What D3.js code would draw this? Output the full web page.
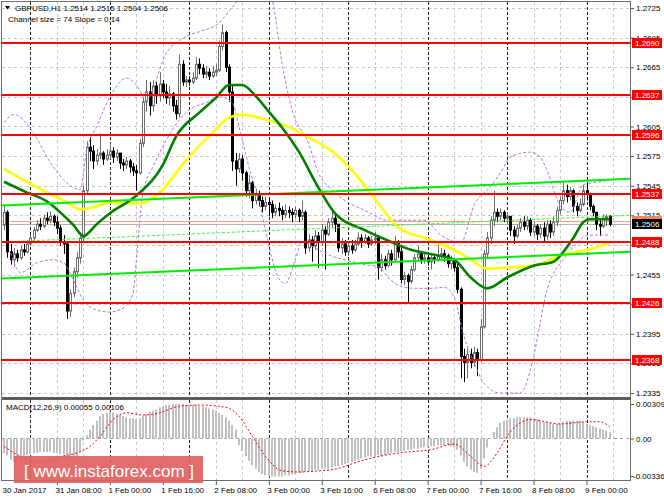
<!DOCTYPE html>
<html>
<head>
<meta charset="utf-8">
<script src="https://cdnjs.cloudflare.com/ajax/libs/d3/7.8.5/d3.min.js"></script>
<style>
  body { margin: 0; background: #fff; }
  svg text { font-family: "Liberation Sans", Arial, sans-serif; font-size: 8px; fill: #000; }
</style>
</head>
<body>
<svg id="chart" width="664" height="498"></svg>
<script>
// ---- data (bar 0 = 30 Jan 16:00) ----
const closes = [
  1.2518,1.2478,1.2470,1.2476,1.2472,1.2480,1.2478,1.2486,
  1.2492,1.2500,1.2506,1.2504,1.2512,1.2510,1.2514,1.2508,
  1.2502,1.2488,1.2486,1.2418,1.2436,1.2458,1.2472,1.2492,
  1.2540,1.2584,1.2580,1.2570,1.2576,1.2578,1.2572,1.2576,
  1.2580,1.2574,1.2578,1.2568,1.2566,1.2570,1.2564,1.2560,
  1.2558,1.2588,1.2630,1.2640,1.2626,1.2646,1.2636,1.2648,
  1.2640,1.2634,1.2638,1.2626,1.2618,1.2668,1.2650,1.2652,
  1.2650,1.2654,1.2668,1.2664,1.2658,1.2660,1.2656,1.2660,
  1.2662,1.2686,1.2700,1.2665,1.2640,1.2570,1.2562,1.2572,
  1.2558,1.2540,1.2548,1.2530,1.2536,1.2530,1.2524,1.2528,
  1.2526,1.2518,1.2522,1.2520,1.2516,1.2520,1.2518,1.2516,
  1.2520,1.2514,1.2518,1.2482,1.2490,1.2484,1.2494,1.2488,
  1.2500,1.2496,1.2508,1.2512,1.2506,1.2482,1.2486,1.2478,
  1.2484,1.2480,1.2486,1.2492,1.2488,1.2492,1.2486,1.2490,
  1.2492,1.2462,1.2470,1.2464,1.2476,1.2470,1.2488,1.2478,
  1.2450,1.2454,1.2448,1.2460,1.2472,1.2476,1.2470,1.2472,
  1.2468,1.2472,1.2470,1.2474,1.2476,1.2474,1.2466,1.2470,
  1.2462,1.2440,1.2372,1.2366,1.2374,1.2366,1.2376,1.2368,
  1.2402,1.2476,1.2492,1.2510,1.2518,1.2514,1.2518,1.2512,
  1.2514,1.2500,1.2494,1.2502,1.2508,1.2504,1.2510,1.2498,
  1.2504,1.2496,1.2502,1.2494,1.2506,1.2498,1.2508,1.2520,
  1.2530,1.2540,1.2534,1.2540,1.2524,1.2520,1.2526,1.2540,
  1.2536,1.2524,1.2518,1.2506,1.2504,1.2512,1.2514,1.2506
];
const highs = [
  1.2525,1.2520,1.2486,1.2482,1.2480,1.2484,1.2486,1.2490,
  1.2496,1.2503,1.2510,1.2512,1.2516,1.2518,1.2519,1.2516,
  1.2514,1.2505,1.2495,1.2488,1.2440,1.2462,1.2478,1.2498,
  1.2545,1.2590,1.2594,1.2586,1.2582,1.2598,1.2580,1.2582,
  1.2588,1.2584,1.2582,1.2576,1.2572,1.2574,1.2572,1.2568,
  1.2566,1.2592,1.2634,1.2652,1.2650,1.2652,1.2650,1.2660,
  1.2652,1.2648,1.2646,1.2640,1.2632,1.2678,1.2672,1.2656,
  1.2656,1.2660,1.2675,1.2674,1.2668,1.2666,1.2664,1.2666,
  1.2668,1.2692,1.2708,1.2702,1.2668,1.2646,1.2578,1.2578,
  1.2576,1.2560,1.2556,1.2550,1.2542,1.2540,1.2534,1.2534,
  1.2532,1.2530,1.2526,1.2528,1.2524,1.2526,1.2524,1.2522,
  1.2524,1.2522,1.2530,1.2520,1.2496,1.2494,1.2500,1.2498,
  1.2506,1.2504,1.2512,1.2520,1.2516,1.2506,1.2492,1.2490,
  1.2488,1.2490,1.2490,1.2498,1.2496,1.2496,1.2494,1.2494,
  1.2498,1.2494,1.2476,1.2474,1.2480,1.2480,1.2494,1.2490,
  1.2484,1.2458,1.2456,1.2464,1.2476,1.2484,1.2478,1.2476,
  1.2476,1.2476,1.2476,1.2486,1.2482,1.2480,1.2476,1.2474,
  1.2472,1.2466,1.2442,1.2380,1.2380,1.2380,1.2382,1.2380,
  1.2410,1.2480,1.2498,1.2514,1.2540,1.2522,1.2522,1.2520,
  1.2518,1.2514,1.2504,1.2506,1.2512,1.2514,1.2514,1.2512,
  1.2508,1.2506,1.2506,1.2508,1.2510,1.2510,1.2514,1.2524,
  1.2534,1.2550,1.2546,1.2544,1.2542,1.2528,1.2532,1.2546,
  1.2548,1.2538,1.2526,1.2518,1.2510,1.2516,1.2516,1.2515
];
const lows = [
  1.2500,1.2472,1.2465,1.2463,1.2468,1.2470,1.2474,1.2476,
  1.2484,1.2490,1.2498,1.2500,1.2502,1.2506,1.2507,1.2504,
  1.2496,1.2484,1.2476,1.2410,1.2412,1.2432,1.2452,1.2466,
  1.2488,1.2536,1.2570,1.2562,1.2566,1.2572,1.2566,1.2570,
  1.2572,1.2568,1.2570,1.2562,1.2560,1.2562,1.2558,1.2555,
  1.2540,1.2556,1.2584,1.2620,1.2616,1.2620,1.2628,1.2630,
  1.2634,1.2628,1.2626,1.2620,1.2612,1.2614,1.2646,1.2645,
  1.2646,1.2648,1.2652,1.2658,1.2654,1.2654,1.2652,1.2654,
  1.2656,1.2660,1.2682,1.2660,1.2630,1.2560,1.2545,1.2558,
  1.2550,1.2534,1.2532,1.2522,1.2526,1.2524,1.2518,1.2520,
  1.2514,1.2512,1.2514,1.2514,1.2510,1.2512,1.2512,1.2508,
  1.2512,1.2508,1.2510,1.2476,1.2478,1.2468,1.2480,1.2462,
  1.2484,1.2460,1.2494,1.2502,1.2498,1.2478,1.2476,1.2474,
  1.2474,1.2476,1.2478,1.2484,1.2482,1.2486,1.2482,1.2484,
  1.2486,1.2450,1.2458,1.2460,1.2462,1.2464,1.2468,1.2472,
  1.2446,1.2444,1.2427,1.2446,1.2458,1.2470,1.2466,1.2466,
  1.2464,1.2460,1.2466,1.2468,1.2470,1.2468,1.2462,1.2460,
  1.2458,1.2436,1.2350,1.2346,1.2350,1.2360,1.2362,1.2352,
  1.2366,1.2400,1.2472,1.2486,1.2504,1.2508,1.2510,1.2508,
  1.2506,1.2494,1.2486,1.2492,1.2498,1.2500,1.2500,1.2494,
  1.2494,1.2490,1.2492,1.2488,1.2490,1.2492,1.2494,1.2504,
  1.2516,1.2526,1.2528,1.2530,1.2518,1.2514,1.2518,1.2524,
  1.2530,1.2520,1.2514,1.2500,1.2494,1.2502,1.2504,1.2504
];
const firstOpen = 1.2505;
const opens = [firstOpen].concat(closes.slice(0, -1));

// moving averages and bands: [bar, price] points
const maGreen = [[0,1.2549],[7,1.2538],[13,1.2529],[17,1.2518],[21,1.2505],[24,1.2494],[28,1.2506],[32,1.2517],
  [40,1.2535],[48,1.2566],[52,1.2595],[59,1.2619],[64,1.2634],[68,1.2647],[72,1.2647],[76,1.2636],[80,1.2620],
  [84,1.2604],[89,1.2580],[95,1.2543],[100,1.2517],[109,1.2500],[117,1.2488],[123,1.2480],[130,1.2475],[136,1.2470],
  [141,1.2452],[146,1.2441],[152,1.2452],[160,1.2464],[166,1.2468],[169,1.2478],[172,1.2492],[175,1.2508],[177,1.2511],[183,1.2511]];
const maYellow = [[0,1.2562],[9,1.2545],[19,1.2528],[23,1.2521],[28,1.2524],[32,1.2528],[41,1.2527],[47,1.2538],
  [55,1.2571],[64,1.2602],[68,1.2614],[72,1.2617],[79,1.2612],[87,1.2603],[92,1.2594],[99,1.2580],[105,1.2561],
  [112,1.2532],[119,1.2503],[128,1.2491],[136,1.2480],[141,1.2470],[146,1.2461],[152,1.2462],[160,1.2464],
  [169,1.2475],[176,1.2480],[183,1.2487]];
const bandUpper = [[0,1.2609],[3,1.2617],[9,1.2598],[13,1.2574],[18,1.2551],[23,1.2541],[25,1.2581],[28,1.2605],
  [32,1.2635],[37,1.2654],[40,1.2647],[43,1.2632],[49,1.2679],[55,1.2696],[59,1.2701],[65,1.2710],[69,1.2726],
  [74,1.2743],[79,1.2743],[81,1.2733],[84,1.2669],[87,1.2622],[92,1.2588],[95,1.2558],[99,1.2541],[103,1.2530],
  [109,1.2520],[116,1.2510],[127,1.2510],[132,1.2495],[138,1.2487],[142,1.2525],[147,1.2544],[150,1.2558],
  [153,1.2574],[159,1.2579],[162,1.2574],[164,1.2561],[168,1.2525],[171,1.2518],[175,1.2546],[180,1.2549],[183,1.2551]];
const bandLower = [[2,1.2477],[5,1.2457],[10,1.2467],[15,1.2470],[18,1.2467],[21,1.2449],[24,1.2429],[28,1.2419],
  [32,1.2417],[36,1.2421],[39,1.2436],[40,1.2470],[42,1.2538],[45,1.2564],[49,1.2591],[53,1.2612],[56,1.2622],
  [61,1.2629],[65,1.2635],[69,1.2629],[71,1.2605],[74,1.2564],[77,1.2530],[79,1.2500],[83,1.2451],[85,1.2446],
  [88,1.2470],[90,1.2488],[95,1.2480],[98,1.2475],[103,1.2470],[109,1.2465],[113,1.2463],[117,1.2449],[121,1.2442],
  [125,1.2441],[129,1.2441],[133,1.2442],[136,1.2432],[139,1.2392],[142,1.2366],[145,1.2345],[150,1.2335],
  [156,1.2335],[160,1.2372],[162,1.2406],[164,1.2439],[166,1.2456],[169,1.2470],[177,1.2495],[183,1.2495]];

// regression channel end points (bar, price)
const channelBars = [-0.6, 189.2];
const channelUpper = [1.2525, 1.2552];
const channelMiddle = [1.2488, 1.2515];
const channelLower = [1.2451, 1.2478];

const levels = [1.2690, 1.2637, 1.2596, 1.2537, 1.2488, 1.2426, 1.2368];
const priceTicks = [1.2335,1.2365,1.2395,1.2425,1.2455,1.2485,1.2515,1.2545,1.2575,1.2605,1.2635,1.2665,1.2695,1.2725];
const bidPrice = 1.2506;
const askPrice = 1.2509;

// MACD(12,26,9) histogram per bar and signal points
const macdHist = [
  -0.0013,-0.0015,-0.0019,-0.0021,-0.0020,-0.0018,-0.0016,-0.0015,
  -0.0014,-0.0013,-0.0013,-0.0012,-0.0012,-0.0012,-0.0012,-0.0013,
  -0.0013,-0.0014,-0.0014,-0.0018,-0.0020,-0.0019,-0.0016,-0.0012,
  -0.0002,0.0003,0.0008,0.0012,0.0016,0.0020,0.0022,0.0023,
  0.0024,0.0023,0.0022,0.0021,0.0020,0.0019,0.0018,0.0018,
  0.0017,0.0018,0.0020,0.0022,0.0024,0.0025,0.0026,0.0028,
  0.0029,0.0030,0.0030,0.0031,0.0031,0.0031,0.0031,0.0030,
  0.0030,0.0030,0.0030,0.0029,0.0029,0.0028,0.0027,0.0026,
  0.0025,0.0023,0.0021,0.0019,0.0016,0.0012,0.0008,-0.0006,
  -0.0011,-0.0016,-0.0020,-0.0024,-0.0027,-0.0030,-0.0032,-0.0033,
  -0.0034,-0.0034,-0.0034,-0.0034,-0.0034,-0.0033,-0.0033,-0.0032,
  -0.0032,-0.0031,-0.0031,-0.0030,-0.0029,-0.0029,-0.0028,-0.0028,
  -0.0027,-0.0027,-0.0027,-0.0026,-0.0025,-0.0025,-0.0024,-0.0023,
  -0.0022,-0.0021,-0.0020,-0.0019,-0.0018,-0.0017,-0.0016,-0.0016,
  -0.0016,-0.0015,-0.0016,-0.0015,-0.0014,-0.0013,-0.0012,-0.0012,
  -0.0011,-0.0011,-0.0010,-0.0010,-0.0009,-0.0009,-0.0008,-0.0008,
  -0.0008,-0.0007,-0.0007,-0.0006,-0.0006,-0.0006,-0.0006,-0.0007,
  -0.0008,-0.0010,-0.0015,-0.0021,-0.0025,-0.0028,-0.0030,-0.0031,
  -0.0027,-0.0018,-0.0008,0.0000,0.0006,0.0010,0.0014,0.0016,
  0.0017,0.0018,0.0018,0.0019,0.0019,0.0019,0.0019,0.0019,
  0.0018,0.0017,0.0016,0.0015,0.0015,0.0014,0.0013,0.0013,
  0.0014,0.0015,0.0016,0.0016,0.0016,0.0016,0.0016,0.0015,
  0.0013,0.0012,0.0011,0.0010,0.0009,0.0008,0.0007,0.00055
];
const macdSignal = [[0,-0.0007],[5,-0.0016],[11,-0.0021],[17,-0.0016],[22,-0.0013],[26,-0.0007],[29,0.0002],
  [33,0.0017],[37,0.0023],[42,0.0021],[47,0.0023],[53,0.0029],[59,0.0030],[67,0.0028],[71,0.0020],[75,0.0002],
  [79,-0.0016],[84,-0.0029],[89,-0.0030],[95,-0.0029],[99,-0.0028],[109,-0.0019],[119,-0.0013],[129,-0.0010],
  [136,-0.0005],[141,-0.0016],[145,-0.0025],[149,-0.0013],[152,0.0002],[156,0.0014],[159,0.0017],[168,0.0013],
  [176,0.0015],[180,0.0015],[183,0.00106]];
const macdTicks = [0.00309, 0, -0.00336];
const macdTickLabels = ["0.00309", "0.00", "-0.00336"];

const timeLabelBars = [0,16,32,48,64,80,96,112,128,144,160,176];
const timeLabels = ["30 Jan 2017","31 Jan 08:00","1 Feb 00:00","1 Feb 16:00","2 Feb 08:00","3 Feb 00:00",
  "3 Feb 16:00","6 Feb 08:00","7 Feb 00:00","7 Feb 16:00","8 Feb 08:00","9 Feb 00:00"];
const daySeparatorBars = [8,32,56,80,104,128,152,176];
const gridBars = [8,16,24,32,40,48,56,64,72,80,88,96,104,112,120,128,136,144,152,160,168,176,184];

// ---- layout ----
const svg = d3.select('#chart');
const left = 2, right = 631, mainTop = 2, mainBottom = 398, macdTop = 400, macdBottom = 481;

const x = d3.scaleLinear().domain([0, 183]).range([4, 609.7]);
const y = d3.scaleLinear().domain([1.2335, 1.2725]).range([393, 8]);
const ym = d3.scaleLinear().domain([-0.00336, 0.00309]).range([476, 404]);
const px = v => Math.round(v) + 0.5;

svg.append('defs').append('clipPath').attr('id', 'mainClip')
  .append('rect').attr('x', left).attr('y', mainTop).attr('width', right - left).attr('height', mainBottom - mainTop);
svg.select('defs').append('clipPath').attr('id', 'macdClip')
  .append('rect').attr('x', left).attr('y', macdTop).attr('width', right - left).attr('height', macdBottom - macdTop);

// grid
const grid = svg.append('g');
grid.selectAll('.hgrid').data(priceTicks).join('line')
  .attr('x1', left).attr('x2', right)
  .attr('y1', d => px(y(d))).attr('y2', d => px(y(d)))
  .attr('stroke', '#c8c8c8').attr('stroke-dasharray', '3,3');
[[mainTop, mainBottom], [macdTop, macdBottom]].forEach(([t, b]) => {
  grid.append('g').selectAll('line').data(gridBars.filter(d => daySeparatorBars.indexOf(d) < 0)).join('line')
    .attr('x1', d => px(x(d))).attr('x2', d => px(x(d))).attr('y1', t).attr('y2', b)
    .attr('stroke', '#c8c8c8').attr('stroke-dasharray', '3,3');
  grid.append('g').selectAll('line').data(daySeparatorBars).join('line')
    .attr('x1', d => px(x(d))).attr('x2', d => px(x(d))).attr('y1', t).attr('y2', b)
    .attr('stroke', '#222').attr('stroke-dasharray', '3,2');
});

const main = svg.append('g').attr('clip-path', 'url(#mainClip)');

// bid / ask lines
main.append('line').attr('x1', left).attr('x2', right)
  .attr('y1', px(y(askPrice))).attr('y2', px(y(askPrice))).attr('stroke', '#f5a27c');
main.append('line').attr('x1', left).attr('x2', right)
  .attr('y1', px(y(bidPrice))).attr('y2', px(y(bidPrice))).attr('stroke', '#b4b4b4');

// candles
const bars = closes.map((c, i) => ({ i, o: opens[i], h: highs[i], l: lows[i], c }));
const cg = main.append('g');
cg.selectAll('line').data(bars).join('line')
  .attr('x1', d => px(x(d.i))).attr('x2', d => px(x(d.i)))
  .attr('y1', d => y(d.h)).attr('y2', d => y(d.l))
  .attr('stroke', d => d.c >= d.o ? '#6e6e6e' : '#000');
cg.selectAll('rect').data(bars).join('rect')
  .attr('x', d => Math.round(x(d.i)) - 0.5).attr('width', 2)
  .attr('y', d => y(Math.max(d.o, d.c)))
  .attr('height', d => Math.max(1, Math.abs(y(d.o) - y(d.c))))
  .attr('fill', d => d.c >= d.o ? '#fff' : '#000')
  .attr('stroke', d => d.c >= d.o ? '#6e6e6e' : '#000').attr('stroke-width', 1);

// bands and moving averages
const pline = d3.line().x(d => x(d[0])).y(d => y(d[1])).curve(d3.curveMonotoneX);
[bandUpper, bandLower].forEach(b => {
  main.append('path').attr('d', pline(b)).attr('fill', 'none')
    .attr('stroke', '#b870e6').attr('stroke-width', 1).attr('stroke-dasharray', '3,2');
});
main.append('path').attr('d', pline(maYellow)).attr('fill', 'none')
  .attr('stroke', '#ffff00').attr('stroke-width', 2.6);
main.append('path').attr('d', pline(maGreen)).attr('fill', 'none')
  .attr('stroke', '#008000').attr('stroke-width', 2.6);

// channel
const cline = d3.line().x(d => x(d[0])).y(d => y(d[1]));
main.append('path').attr('d', cline(channelBars.map((b, i) => [b, channelUpper[i]])))
  .attr('stroke', '#00ee00').attr('stroke-width', 2).attr('fill', 'none');
main.append('path').attr('d', cline(channelBars.map((b, i) => [b, channelLower[i]])))
  .attr('stroke', '#00ee00').attr('stroke-width', 2).attr('fill', 'none');
main.append('path').attr('d', cline(channelBars.map((b, i) => [b, channelMiddle[i]])))
  .attr('stroke', '#33ff33').attr('stroke-width', 1).attr('stroke-dasharray', '3,2').attr('fill', 'none');

// horizontal levels
main.selectAll('.level').data(levels).join('line')
  .attr('x1', left).attr('x2', right)
  .attr('y1', d => Math.round(y(d))).attr('y2', d => Math.round(y(d)))
  .attr('stroke', '#ff0000').attr('stroke-width', 2);

// MACD panel
const mg = svg.append('g').attr('clip-path', 'url(#macdClip)');
mg.append('line').attr('x1', left).attr('x2', right).attr('y1', px(ym(0))).attr('y2', px(ym(0)))
  .attr('stroke', '#a0a0a0').attr('stroke-dasharray', '3,3');
mg.selectAll('rect').data(macdHist).join('rect')
  .attr('x', (d, i) => Math.round(x(i)) - 1).attr('width', 2)
  .attr('y', d => Math.min(ym(d), ym(0))).attr('height', d => Math.abs(ym(d) - ym(0)))
  .attr('fill', '#c0c0c0');
mg.append('path').attr('d', d3.line().x(d => x(d[0])).y(d => ym(d[1])).curve(d3.curveMonotoneX)(macdSignal))
  .attr('fill', 'none').attr('stroke', '#ff0000').attr('stroke-width', 1).attr('stroke-dasharray', '2,2');

// frames
const frame = svg.append('g').attr('fill', 'none').attr('stroke', '#6e6e6e');
frame.append('rect').attr('x', left - 0.5).attr('y', mainTop - 0.5).attr('width', right - left).attr('height', mainBottom - mainTop);
frame.append('rect').attr('x', left - 0.5).attr('y', macdTop - 0.5).attr('width', right - left).attr('height', macdBottom - macdTop);
svg.append('line').attr('x1', left).attr('x2', right).attr('y1', 398.5).attr('y2', 398.5).attr('stroke', '#555').attr('stroke-width', 2);

// axes
const yAxis = svg.append('g').attr('transform', `translate(${right},0)`)
  .call(d3.axisRight(y).tickValues(priceTicks).tickSize(3).tickPadding(2).tickFormat(d3.format('.4f')));
const macdAxis = svg.append('g').attr('transform', `translate(${right},0)`)
  .call(d3.axisRight(ym).tickValues(macdTicks).tickSize(3).tickPadding(2).tickFormat((d, i) => macdTickLabels[i]));
macdAxis.selectAll('.tick').filter(d => d < 0).select('text').attr('x', 2);
const xAxis = svg.append('g').attr('transform', `translate(0,${macdBottom})`)
  .call(d3.axisBottom(x).tickValues(timeLabelBars).tickSize(4).tickPadding(2).tickFormat((d, i) => timeLabels[i]));
xAxis.selectAll('text').attr('text-anchor', 'start').attr('dx', -2);
[yAxis, macdAxis, xAxis].forEach(a => {
  a.select('.domain').remove();
  a.selectAll('.tick line').attr('stroke', '#555');
  a.selectAll('text').style('font-family', '"Liberation Sans", Arial, sans-serif').style('font-size', '8px');
});
xAxis.selectAll('.tick').filter(d => d === 0).select('line').remove();

// price tags on the axis
function tag(price, fill, label) {
  const cy = Math.round(y(price));
  svg.append('rect').attr('x', 632).attr('y', cy - 5).attr('width', 30).attr('height', 10).attr('fill', fill);
  svg.append('text').attr('x', 635).attr('y', cy + 3).style('fill', '#fff').text(label);
}
levels.forEach(l => tag(l, '#ff0000', l.toFixed(4)));
tag(askPrice, '#f08a5d', askPrice.toFixed(4));
tag(bidPrice, '#000', bidPrice.toFixed(4));

// header texts
svg.append('path').attr('d', 'M5,6 L10,6 L7.5,9.5 Z').attr('fill', '#000');
svg.append('text').attr('x', 15).attr('y', 11).text('GBPUSD,H1  1.2514 1.2515 1.2504 1.2506');
svg.append('text').attr('x', 8).attr('y', 22).text('Channel size = 74 Slope = 0.14');
svg.append('text').attr('x', 6).attr('y', 410).text('MACD(12,26,9) 0.00055 0.00106');

// watermark
svg.append('rect').attr('x', 14).attr('y', 456).attr('width', 189).attr('height', 27)
  .attr('fill', '#e05c5c').attr('opacity', 0.9);
svg.append('text').attr('x', 24).attr('y', 477).style('font-size', '17px').style('fill', '#fff')
  .attr('xml:space', 'preserve').text('[ www.instaforex.com ]');
</script>
</body>
</html>
